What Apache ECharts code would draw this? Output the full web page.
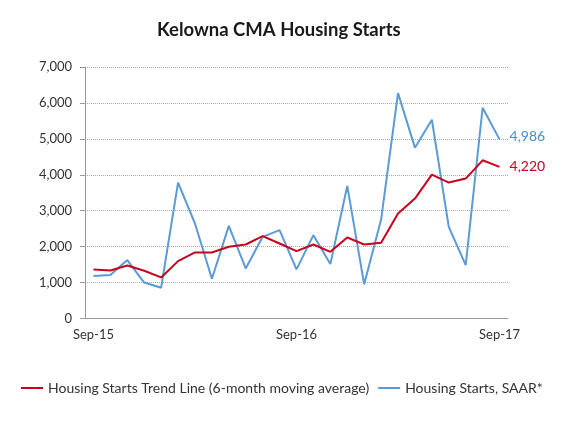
<!DOCTYPE html>
<html>
<head>
<meta charset="utf-8">
<script src="https://cdn.jsdelivr.net/npm/echarts@6/dist/echarts.min.js"></script>
<style>
  html, body { margin: 0; padding: 0; background: #fff; }
  #main { width: 573px; height: 429px; }
</style>
</head>
<body>
<div id="main"></div>
<script>
// months Sep-15 .. Sep-17
var months = ['Sep-15','Oct-15','Nov-15','Dec-15','Jan-16','Feb-16','Mar-16','Apr-16','May-16','Jun-16','Jul-16','Aug-16',
	'Sep-16','Oct-16','Nov-16','Dec-16','Jan-17','Feb-17','Mar-17','Apr-17','May-17','Jun-17','Jul-17','Aug-17','Sep-17'];

// 6-month moving average (trend)
var trend = [1366, 1338, 1477, 1329, 1143, 1597, 1838, 1838, 1995, 2060, 2292, 2088,
	1875, 2060, 1856, 2255, 2060, 2106, 2921, 3338, 4005, 3783, 3894, 4403, 4220];

// SAAR
var saar = [1180, 1210, 1625, 1000, 857, 3783, 2644, 1106, 2578, 1394, 2273, 2458,
	1366, 2319, 1514, 3690, 950, 2755, 6273, 4755, 5532, 2551, 1486, 5866, 4986];

var yTicks = [0, 1000, 2000, 3000, 4000, 5000, 6000, 7000];

var red = '#C8001E';
var blue = '#5B9BD5';
var font = 'Lato';

var myChart = echarts.init(document.getElementById('main'));

function fmt(v) {
	return v.toLocaleString('en-US');
}

var option = {
	animation: false,
	title: {
		text: 'Kelowna CMA Housing Starts',
		left: 152,
		top: 16,
		textStyle: { fontFamily: font, fontSize: 18.5, fontWeight: 'bold', color: '#1a1a1a' }
	},
	grid: { left: 85, right: 65, top: 67, bottom: 110.5 },
	legend: {
		bottom: 29,
		left: 16,
		itemWidth: 22,
		itemHeight: 2,
		itemGap: 9,
		icon: 'rect',
		textStyle: { fontFamily: font, fontSize: 14, color: '#333' },
		data: ['Housing Starts Trend Line (6-month moving average)', 'Housing Starts, SAAR*']
	},
	xAxis: {
		type: 'category',
		data: months,
		boundaryGap: true,
		axisLine: { lineStyle: { color: '#999' } },
		axisTick: { interval: 11, length: 5, lineStyle: { color: '#999' } },
		axisLabel: { interval: 11, fontFamily: font, fontSize: 13, color: '#333', margin: 10 }
	},
	yAxis: {
		type: 'value',
		min: yTicks[0],
		max: yTicks[yTicks.length - 1],
		interval: 1000,
		axisLine: { show: true, lineStyle: { color: '#999' } },
		axisTick: { show: true, inside: false, length: 5, lineStyle: { color: '#999' } },
		axisLabel: { fontFamily: font, fontSize: 13, color: '#333', margin: 13, formatter: fmt },
		splitLine: { lineStyle: { color: '#aaa', type: [1, 1] } }
	},
	series: [
		{
			name: 'Housing Starts Trend Line (6-month moving average)',
			type: 'line',
			data: trend,
			symbol: 'none',
			color: red,
			lineStyle: { width: 2, color: red },
			endLabel: {
				show: true,
				distance: 10,
				color: red,
				fontFamily: font,
				fontSize: 14,
				formatter: function (p) { return fmt(p.value); }
			},
			z: 3
		},
		{
			name: 'Housing Starts, SAAR*',
			type: 'line',
			data: saar,
			symbol: 'none',
			color: blue,
			lineStyle: { width: 2, color: blue },
			endLabel: {
				show: true,
				distance: 10,
				offset: [0, -3],
				color: '#3F8ED8',
				fontFamily: font,
				fontSize: 14,
				formatter: function (p) { return fmt(p.value); }
			},
			z: 2
		}
	]
};

myChart.setOption(option);
</script>
</body>
</html>
